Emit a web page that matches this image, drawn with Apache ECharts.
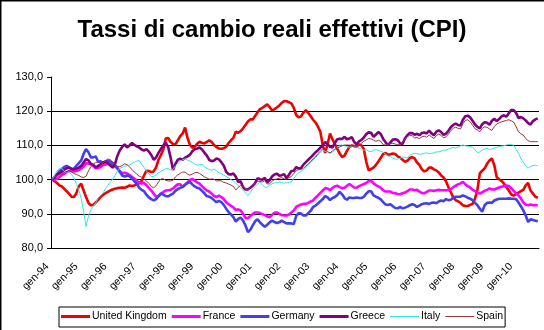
<!DOCTYPE html>
<html>
<head>
<meta charset="utf-8">
<script src="https://cdn.jsdelivr.net/npm/echarts@6/dist/echarts.min.js"></script>
<style>
html,body{margin:0;padding:0;background:#fff;}
#chart{width:544px;height:330px;}
</style>
</head>
<body>
<div id="chart"></div>
<script>
const chartTitle = 'Tassi di cambio reali effettivi (CPI)';
const monthNames = ['gen','feb','mar','apr','mag','giu','lug','ago','set','ott','nov','dic'];
const firstYear = 1994;
const monthCount = 202;
const yTicks = [80, 90, 100, 110, 120, 130];
const seriesNames = ['United Kingdom', 'France', 'Germany', 'Greece', 'Italy', 'Spain'];

const uk = [
100,99.5,99,98.3,98,97.3,96.6,95.8,95,94.9,96,98,
98.8,96.8,94.9,93.2,92.5,92.6,93.3,94.1,94.9,95.5,96,96.4,
96.8,97.1,97.3,97.5,97.6,97.7,97.6,97.9,98.3,98.1,98.3,98.6,
99,99.6,101.2,102.6,102.5,102.2,102.4,103.6,105.8,107.2,108.8,112,
112.2,111,110.4,110.3,111.5,112.7,113.5,115.2,112.2,110.2,109.3,109.6,
110.5,111.1,110.7,110.6,111,111.5,111,110.1,109.5,109.1,109,109.2,
109.6,110.7,111.5,112.2,114,113.7,114.2,115,116,117,117.6,117.6,
118.6,119.7,120.6,121,121.5,122,121.2,120.2,120.6,121.1,121.7,122.4,
123,122.9,122.6,122.3,121,118.9,118.2,118.5,119.6,120.3,119.5,118.5,
117.5,116.7,115.5,114,110,107.8,110.4,113.5,111.8,110.4,109,107.6,
106.6,107,108.4,109.5,110,109.8,109.7,110.3,110,108.9,105.2,102.7,
103.1,103.5,104.3,105.3,106.4,107.5,107.8,107.2,107.4,107.6,107.5,106.8,
106.4,105.8,105.2,105.5,106.3,106.6,106.2,105,104.3,103,102.4,102.7,
103.5,103.5,103,102.7,102.1,101.2,100.6,99.5,97.8,96.3,94.8,94,
93.6,93.2,92.5,92.3,92.3,92.6,92.9,94.4,97,101.8,102.6,103.3,
104.6,105.6,106.2,104.2,100.7,100.1,99.6,98.8,97.8,96.8,95.7,95.3,
95.8,96.2,96.6,97,98.3,99,96.8,95.9,95,94.7
];
const france = [
100,100,100.3,100.8,101.3,101.7,102.1,102.5,102.6,102.4,102.5,102.8,
103.2,103.8,104.8,104.7,104.5,104,103.3,103.4,103.7,104.2,104.4,104.6,
104.6,104.3,103.9,103.2,102.4,101.9,102,101.8,101.3,100.8,100.3,99.7,
99,98.9,99,98.4,97.6,96.8,95.9,95,95.1,95.8,96.4,96.8,
96.9,97,97.4,98.1,98.6,98.6,97.9,98.5,99.2,99.9,100.2,99.7,
99.2,98.8,98.1,97.4,96.8,96.5,95.9,95.2,94.9,95.3,94.9,94.3,
93.4,92.8,92.3,91.9,91.1,91.3,91,90,88.8,88.7,89.4,89.9,
90.4,90.4,90.2,89.9,89.6,89.3,89,89.7,90.3,90.4,90,89.6,
89.5,89.5,89.8,90.4,91,92,92.4,92.7,92.9,92.9,93.2,93.6,
93.9,94.7,95.4,96.1,96.8,97.5,97.4,96.9,97.6,98,98.2,97.8,
97.5,97.6,98.2,98.7,98.2,97.7,97.6,98.1,98.4,98.7,99,99.6,
99.7,98.9,98.4,98,97.6,96.9,96.5,96.5,96.5,96.1,96,95.8,
95.7,96,96.2,96.6,97.1,97.1,96.9,97,96.5,96.1,96,96.4,
96.8,96.8,96.7,96.9,97,96.9,96.9,96.9,96.9,97.2,97.8,98.2,
98.6,98.9,99.3,98.6,98.1,97.7,97,96.6,96.2,95.9,96.3,96.7,
97,97.4,97.1,97.1,97.4,97.7,97.9,98.1,98.3,98.1,97.5,96.7,
96,95.3,94.5,93.3,92.7,92.5,92.7,92.5,92.5,92.5
];
const germany = [
100,100.5,101.5,102.4,103.1,103.7,104,103.6,103,103.2,104,104.8,
105.6,107.5,108.9,108,106.5,106.5,106.8,105.2,105.4,104.8,105.2,105.5,
105.3,104.8,104.2,103.4,102.2,101.2,100.9,101.2,101,100.4,99.5,98.8,
97.6,97,96.6,95.6,94.8,94.3,93.9,94.3,95.2,96,95.6,95.2,
95.1,95.5,95.9,96.7,97.2,97.6,97.8,98.5,99,99.3,98.6,98,
97.6,97.4,96.7,96,95.2,95,94.6,94,93.4,93.8,93.4,92.6,
91.5,90.5,89.8,89,87.7,88.5,88.9,88,86.6,84.7,85.3,86.6,
87.8,88.4,87.5,86.8,86.2,86.8,87.5,88,87.6,87.3,87.5,88,
87.6,87.2,87.2,87.2,87,89.4,90.2,90.1,89.5,89.5,90.2,90.9,
92,92.4,93,93.7,94.3,95.2,94.8,94,94.6,94.9,95.5,96.4,
95.7,94.6,94.1,94.8,94.6,94.6,94.8,94.6,94.6,95,95.9,96.6,
96.6,95.4,95,94.7,94.2,93.4,92.7,92.6,92.8,92.2,91.7,91.6,
92,91.6,91.8,92.1,92.5,92.8,92.6,92,92.4,92.8,93,93.1,
92.9,93.2,93.3,93.1,93.6,93.9,93.7,94.3,94,94.1,94.7,95,
95,95,95.4,95.1,94.7,94.4,94,93.2,92.5,91.5,90.6,92.5,
93.2,93.3,93.2,93.9,94.2,94.4,94.4,94.4,94.4,94.5,94.4,94.4,
94.3,93.3,92.2,91,89.5,87.6,88.4,88.2,88,87.8
];
const greece = [
100,100.8,101.5,101.8,102.3,102.9,103.3,103.5,103.2,103,103.2,103.5,
104,105,106,105.6,104.6,104.3,103.6,104,104.5,105,105.3,104.8,
104.2,103.5,104.5,107,108.6,109.6,110.3,109.4,110,110.7,110.2,109.7,
109.4,108.8,108.5,108.9,108.2,107.2,105.8,106.5,107.8,109,110,110.8,
109.5,106.5,102.8,104.6,105.8,106.1,105.8,106.4,106.8,107.3,108.3,108.9,
109.1,109.4,108.8,107.9,107,105.8,105.4,105.6,106.2,105.9,105.1,104.1,
102.3,101.6,101.5,101.8,100.8,99.3,99.5,97.8,97.1,97.1,97.6,98.2,
99,100.4,100.1,100,100.5,99.2,99.8,100.9,101.5,101.7,101.1,101.3,
101.6,100.4,101.4,102.5,102.6,103.7,103.2,103.4,104.4,105.1,105.8,106.5,
107.2,108,108.6,109.3,110,111,110.3,109.6,109.4,110.7,111.8,111.9,
111.9,112.5,111.8,112,112.4,111,110.3,111.2,111.6,112.3,113.3,113.8,
113.7,112.5,113.2,113.9,113.3,111.9,110.9,110.1,110.9,111.7,111.8,111.6,
110.6,110.4,112,113,113.6,113.6,113.1,113.4,113,113.6,113.8,113.5,
114.3,113.5,113,114,114.4,113.9,113.1,113.4,114.3,115.3,116,116.4,
116,115.8,117.5,118.5,118.7,118.2,117.2,116.1,115.4,115,116.2,116.8,
116.6,116,117.2,117.8,117.1,117.7,118.5,118.8,118.4,119.4,120.3,120.3,
119.5,118,118.3,117.9,117.3,116.5,116.1,117.1,117.6,117.9
];
const italy = [
100,101.3,102.5,103.3,103.2,102.5,101.8,102.2,101.5,100.5,98.8,97,
94.5,90.8,86.3,89.3,91.2,92.2,93.2,94.6,95.3,96,97.3,98.3,
99.2,100.2,101.2,102.5,103.3,103.6,103.9,104.1,104.3,104.7,105.1,105.4,
105.6,104.5,103.6,102.5,101.6,100.9,100.9,101.4,102,102.4,102.8,103.2,
103.2,102.8,103,104,104.7,105.3,105.8,106.1,105.7,105.4,105,104.6,
104.2,104.4,104.5,103.7,103.3,103,102.7,103.1,102.6,102,101.8,101.3,
100.9,100.5,100,99.6,99,98.2,97.6,96.9,96.1,95.4,96.2,97.3,
98,98.7,99.2,98.5,97.8,97.8,98.3,98.8,99,99.1,99.3,99.1,
99,99,99.2,99.3,100.4,101.3,102,102.4,102.9,103.6,104.3,105,
105.7,106.5,107.1,107.8,108.5,108.3,107.9,107.7,108,108.7,109.4,110.1,
110.1,109.9,109.7,109.4,109.7,109.7,109.5,109.2,108.9,108.6,108.8,108.3,
108.2,108.6,108.8,108.5,108.3,108,107.4,106.9,106.7,106.2,106,106,
106.2,106.6,106.5,106.3,107.1,107.5,107.7,107.6,107.4,107.5,107.7,107.8,
107.6,107.7,107.8,108.1,108.1,108.3,108.6,108.6,108.9,109.2,109.4,109.2,
109.5,109.9,110.1,109.9,109.8,109.7,109.4,108.8,107.9,108.1,108.7,109,
109.1,108.8,109,109.2,109.4,109.7,109.8,109.9,110.1,110.3,110.3,110,
108.9,107.7,106.2,105.1,104,103.4,103.8,104.1,104.2,104
];
const spain = [
100,100.7,101.2,101.5,101.8,102.1,102.4,102.6,102.2,101.8,101.5,101.2,
100.8,100.6,101,102.5,103.8,104.5,105,105.2,104.9,104.8,105.5,106,
105.8,105.2,104.4,103.9,103.8,104.1,104.6,104.4,103.7,103,102.2,101.6,
101,100.7,100.2,99.6,98.9,98,97.6,98.2,99.3,100.2,100.2,99.8,
99.6,99.6,99.8,100.8,101.4,101.8,102.2,102.2,101.6,101.3,101.6,102,
102.1,101.8,101.3,100.8,100.5,100.1,100.2,100.1,99.6,99.7,99.6,99.2,
99,98.7,98.4,98,97,97.7,98.3,98,97.4,96.9,97.7,98.4,
99,99.5,99.5,99.3,99.7,98.7,98.8,99.5,100,100.2,100.4,100.6,
100.2,100.1,100.6,100.9,101.8,102.7,102.9,103,103.3,104,104.5,105.3,
106,106.6,107.6,108.3,109,108.8,108.2,107.8,108.4,108.9,109.2,109.6,
109.9,110.1,110.1,110.1,109.8,109.6,109.6,110,110.6,111.2,111.6,112,
111.9,111.5,111.2,111.5,111.2,110.2,110.1,110.4,110.6,110.6,110.4,110.2,
110.2,110.9,111.8,112.6,113,112.8,112.2,112.3,112,112.5,112.7,112.4,
113.1,112.5,112,112.9,113.3,112.9,112.2,112.5,113.3,114.3,115,115.3,
115,114.8,116.3,117.3,117.5,116.9,115.9,114.9,114.5,114,115,115.4,
115.3,114.8,114.4,115.5,116.3,116.6,116.9,117.1,117.3,117.5,117.2,116.8,
115.5,114,113.4,113,112,111.4,111.1,111.1,111.1,111.1
];

const categories = [];
for (let i = 0; i < monthCount; i++) {
  const yy = (firstYear + Math.floor(i / 12)) % 100;
  categories.push(monthNames[i % 12] + '-' + String(yy).padStart(2, '0'));
}

const FONT = '"Liberation Sans", Arial, sans-serif';
const styles = [
  { color: '#f00000', width: 2.6, icon: 'path://M0 0H29V3H0Z' },
  { color: '#ff00ff', width: 2.6, icon: 'path://M0 0H29V3H0Z' },
  { color: '#4040ee', width: 2.6, icon: 'path://M0 0H29V3H0Z' },
  { color: '#800080', width: 2.6, icon: 'path://M0 0H29V3H0Z' },
  { color: '#33e6e6', width: 1, icon: 'path://M0 0H29V1H0Z' },
  { color: '#963838', width: 1, icon: 'path://M0 0H29V1H0Z' }
];
const values = [uk, france, germany, greece, italy, spain];

const chart = echarts.init(document.getElementById('chart'), null, { renderer: 'canvas' });
chart.setOption({
  animation: false,
  backgroundColor: '#ffffff',
  title: {
    text: chartTitle,
    left: 'center',
    top: 18,
    padding: 0,
    textStyle: { fontFamily: FONT, fontSize: 24, fontWeight: 'bold', color: '#000' }
  },
  grid: { left: 51, top: 77, width: 488, height: 171 },
  xAxis: {
    type: 'category',
    data: categories,
    boundaryGap: true,
    axisLine: { lineStyle: { color: '#000', width: 1 } },
    axisTick: { interval: 11, length: 4, lineStyle: { color: '#000', width: 1 } },
    axisLabel: {
      interval: 11, rotate: 45, fontSize: 10.5, color: '#000', margin: 12,
      padding: [0, 7, 0, 0], fontFamily: FONT
    },
    splitLine: { show: false }
  },
  yAxis: {
    type: 'value',
    min: yTicks[0],
    max: yTicks[yTicks.length - 1],
    interval: 10,
    axisLine: { show: true, lineStyle: { color: '#000', width: 1 } },
    axisTick: { show: true, length: 4, lineStyle: { color: '#000', width: 1 } },
    axisLabel: {
      fontSize: 11, color: '#000', margin: 8, fontFamily: FONT,
      formatter: v => v.toFixed(1).replace('.', ',')
    },
    splitLine: { show: true, showMinLine: false, showMaxLine: false, lineStyle: { color: '#000', width: 1 } }
  },
  legend: {
    left: 59,
    top: 307,
    itemWidth: 29,
    itemHeight: 12,
    itemGap: 5,
    padding: [4, 2, 5, 2],
    borderColor: '#000',
    borderWidth: 1,
    borderRadius: 0,
    itemStyle: { borderWidth: 0 },
    textStyle: { fontSize: 10.5, color: '#000', fontFamily: FONT, padding: [0, 0, 0, -3] },
    data: seriesNames.map((n, i) => ({ name: n, icon: styles[i].icon }))
  },
  graphic: [
    { type: 'line', shape: { x1: 0.75, y1: 0, x2: 0.75, y2: 330 }, style: { stroke: '#000', lineWidth: 1.5 } },
    { type: 'line', shape: { x1: 0, y1: 0.75, x2: 544, y2: 0.75 }, style: { stroke: '#000', lineWidth: 1.5 } }
  ],
  series: seriesNames.map((name, i) => ({
    name: name,
    type: 'line',
    data: values[i],
    showSymbol: false,
    symbol: 'none',
    smooth: false,
    lineStyle: { color: styles[i].color, width: styles[i].width },
    itemStyle: { color: styles[i].color },
    emphasis: { disabled: true }
  }))
});
</script>
</body>
</html>
